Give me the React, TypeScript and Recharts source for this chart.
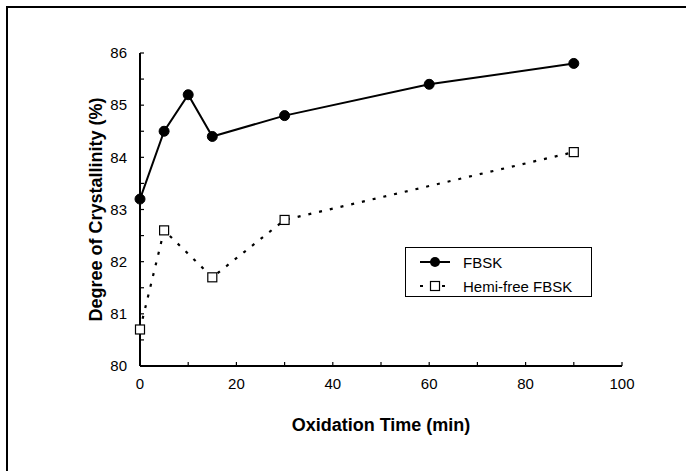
import React from 'react';
import { LineChart, Line, XAxis, YAxis, ErrorBar } from 'recharts';

const fbskTime = [0, 5, 10, 15, 30, 60, 90];
const fbskValues = [83.2, 84.5, 85.2, 84.4, 84.8, 85.4, 85.8];
const fbskErr = [0.06, 0.07, 0.07, 0.06, 0.06, 0.07, 0.07];
const hemiTime = [0, 5, 15, 30, 90];
const hemiValues = [80.7, 82.6, 81.7, 82.8, 84.1];
const xTicks = [0, 10, 20, 30, 40, 50, 60, 70, 80, 90, 100];
const yTicks = [80, 80.5, 81, 81.5, 82, 82.5, 83, 83.5, 84, 84.5, 85, 85.5, 86];
const seriesNames = ['FBSK', 'Hemi-free FBSK'];
const xTitle = 'Oxidation Time (min)';
const yTitle = 'Degree of Crystallinity (%)';

const fbskData = fbskTime.map((t, i) => ({ t, v: fbskValues[i], err: fbskErr[i] }));
const hemiData = hemiTime.map((t, i) => ({ t, v: hemiValues[i] }));

const FONT = '"Liberation Sans", Arial, sans-serif';

const SquareDot = (p: any) => {
  if (p.cx == null || p.cy == null) return <g key={p.key} />;
  return (
    <rect key={p.key} x={p.cx - 4.5} y={p.cy - 4.5} width={9} height={9} fill="#fff" stroke="#000" strokeWidth={1.2} />
  );
};

const YTitle = (props: any) => {
  const vb = props.viewBox || {};
  const x = vb.x - 4;
  const y = vb.y + vb.height / 2;
  return (
    <text x={x} y={y} transform={`rotate(-90, ${x}, ${y})`} textAnchor="middle" dominantBaseline="central"
      fontFamily={FONT} fontWeight="bold" fontSize={18} fill="#000">{yTitle}</text>
  );
};

const XTitle = (props: any) => {
  const vb = props.viewBox || {};
  const x = vb.x + vb.width / 2;
  const y = vb.y + 59;
  return (
    <text x={x} y={y} textAnchor="middle" dominantBaseline="central"
      fontFamily={FONT} fontWeight="bold" fontSize={18} fill="#000">{xTitle}</text>
  );
};

export default function App() {
  return (
    <div style={{ position: 'absolute', left: 0, top: 0, width: 686, height: 471, overflow: 'hidden', background: '#fff', fontFamily: FONT }}>
      <div style={{ position: 'absolute', left: 6, top: 6, width: 700, height: 500, borderTop: '2px solid #000', borderLeft: '2px solid #000' }} />
      <LineChart width={686} height={471} margin={{ top: 53, right: 64, bottom: 45, left: 100 }} style={{ position: 'absolute', left: 0, top: 0 }}>
        <XAxis dataKey="t" type="number" domain={[0, 100]} ticks={xTicks} interval={0}
          tickFormatter={(v: number) => (v % 20 === 0 ? String(v) : '')}
          tickSize={-4} tickMargin={16} height={60}
          axisLine={{ stroke: '#000', strokeWidth: 2 }} tickLine={{ stroke: '#000', strokeWidth: 1.2 }}
          tick={{ fill: '#000', fontSize: 15, fontFamily: FONT }}
          label={<XTitle />} allowDuplicatedCategory={false} />
        <XAxis xAxisId="top" orientation="top" type="number" domain={[0, 100]} height={0} tick={false} tickLine={false}
          axisLine={{ stroke: '#222', strokeWidth: 1.5 }} />
        <YAxis type="number" domain={[80, 86]} ticks={yTicks} interval={0} width={40}
          tickFormatter={(v: number) => (Number.isInteger(v) ? String(v) : '')}
          tickSize={-4} tickMargin={17}
          axisLine={{ stroke: '#000', strokeWidth: 2 }} tickLine={{ stroke: '#000', strokeWidth: 1.2 }}
          tick={{ fill: '#000', fontSize: 15, fontFamily: FONT }}
          label={<YTitle />} />
        <YAxis yAxisId="right" orientation="right" type="number" domain={[80, 86]} width={0} tick={false} tickLine={false}
          axisLine={{ stroke: '#222', strokeWidth: 1.5 }} />
        <Line data={hemiData} dataKey="v" name={seriesNames[1]} stroke="#000" strokeWidth={2.2} strokeDasharray="3 8"
          dot={SquareDot} isAnimationActive={false} />
        <Line data={fbskData} dataKey="v" name={seriesNames[0]} stroke="#000" strokeWidth={2}
          dot={{ r: 5, fill: '#000', stroke: '#000', strokeWidth: 1 }} isAnimationActive={false}>
          <ErrorBar dataKey="err" direction="y" width={3} stroke="#000" strokeWidth={1.5} />
        </Line>
      </LineChart>
      <div style={{ position: 'absolute', left: 405, top: 247, width: 187, height: 50, border: '1px solid #000', boxSizing: 'border-box' }}>
        {seriesNames.map((name, i) => (
          <div key={name} style={{ position: 'absolute', left: 0, top: i === 0 ? 3 : 27, height: 22, width: 185, display: 'flex', alignItems: 'center' }}>
            <svg width={44} height={22} style={{ marginLeft: 11 }}>
              {i === 0 ? (
                <g>
                  <line x1={3} y1={11} x2={33} y2={11} stroke="#000" strokeWidth={2} />
                  <circle cx={18} cy={11} r={5} fill="#000" />
                </g>
              ) : (
                <g>
                  <line x1={3} y1={11} x2={33} y2={11} stroke="#000" strokeWidth={2.2} strokeDasharray="3 8" />
                  <rect x={13.5} y={6.5} width={9} height={9} fill="#fff" stroke="#000" strokeWidth={1.2} />
                </g>
              )}
            </svg>
            <span style={{ marginLeft: 2, fontSize: 15, fontFamily: FONT, color: '#000', whiteSpace: 'nowrap' }}>{name}</span>
          </div>
        ))}
      </div>
    </div>
  );
}
